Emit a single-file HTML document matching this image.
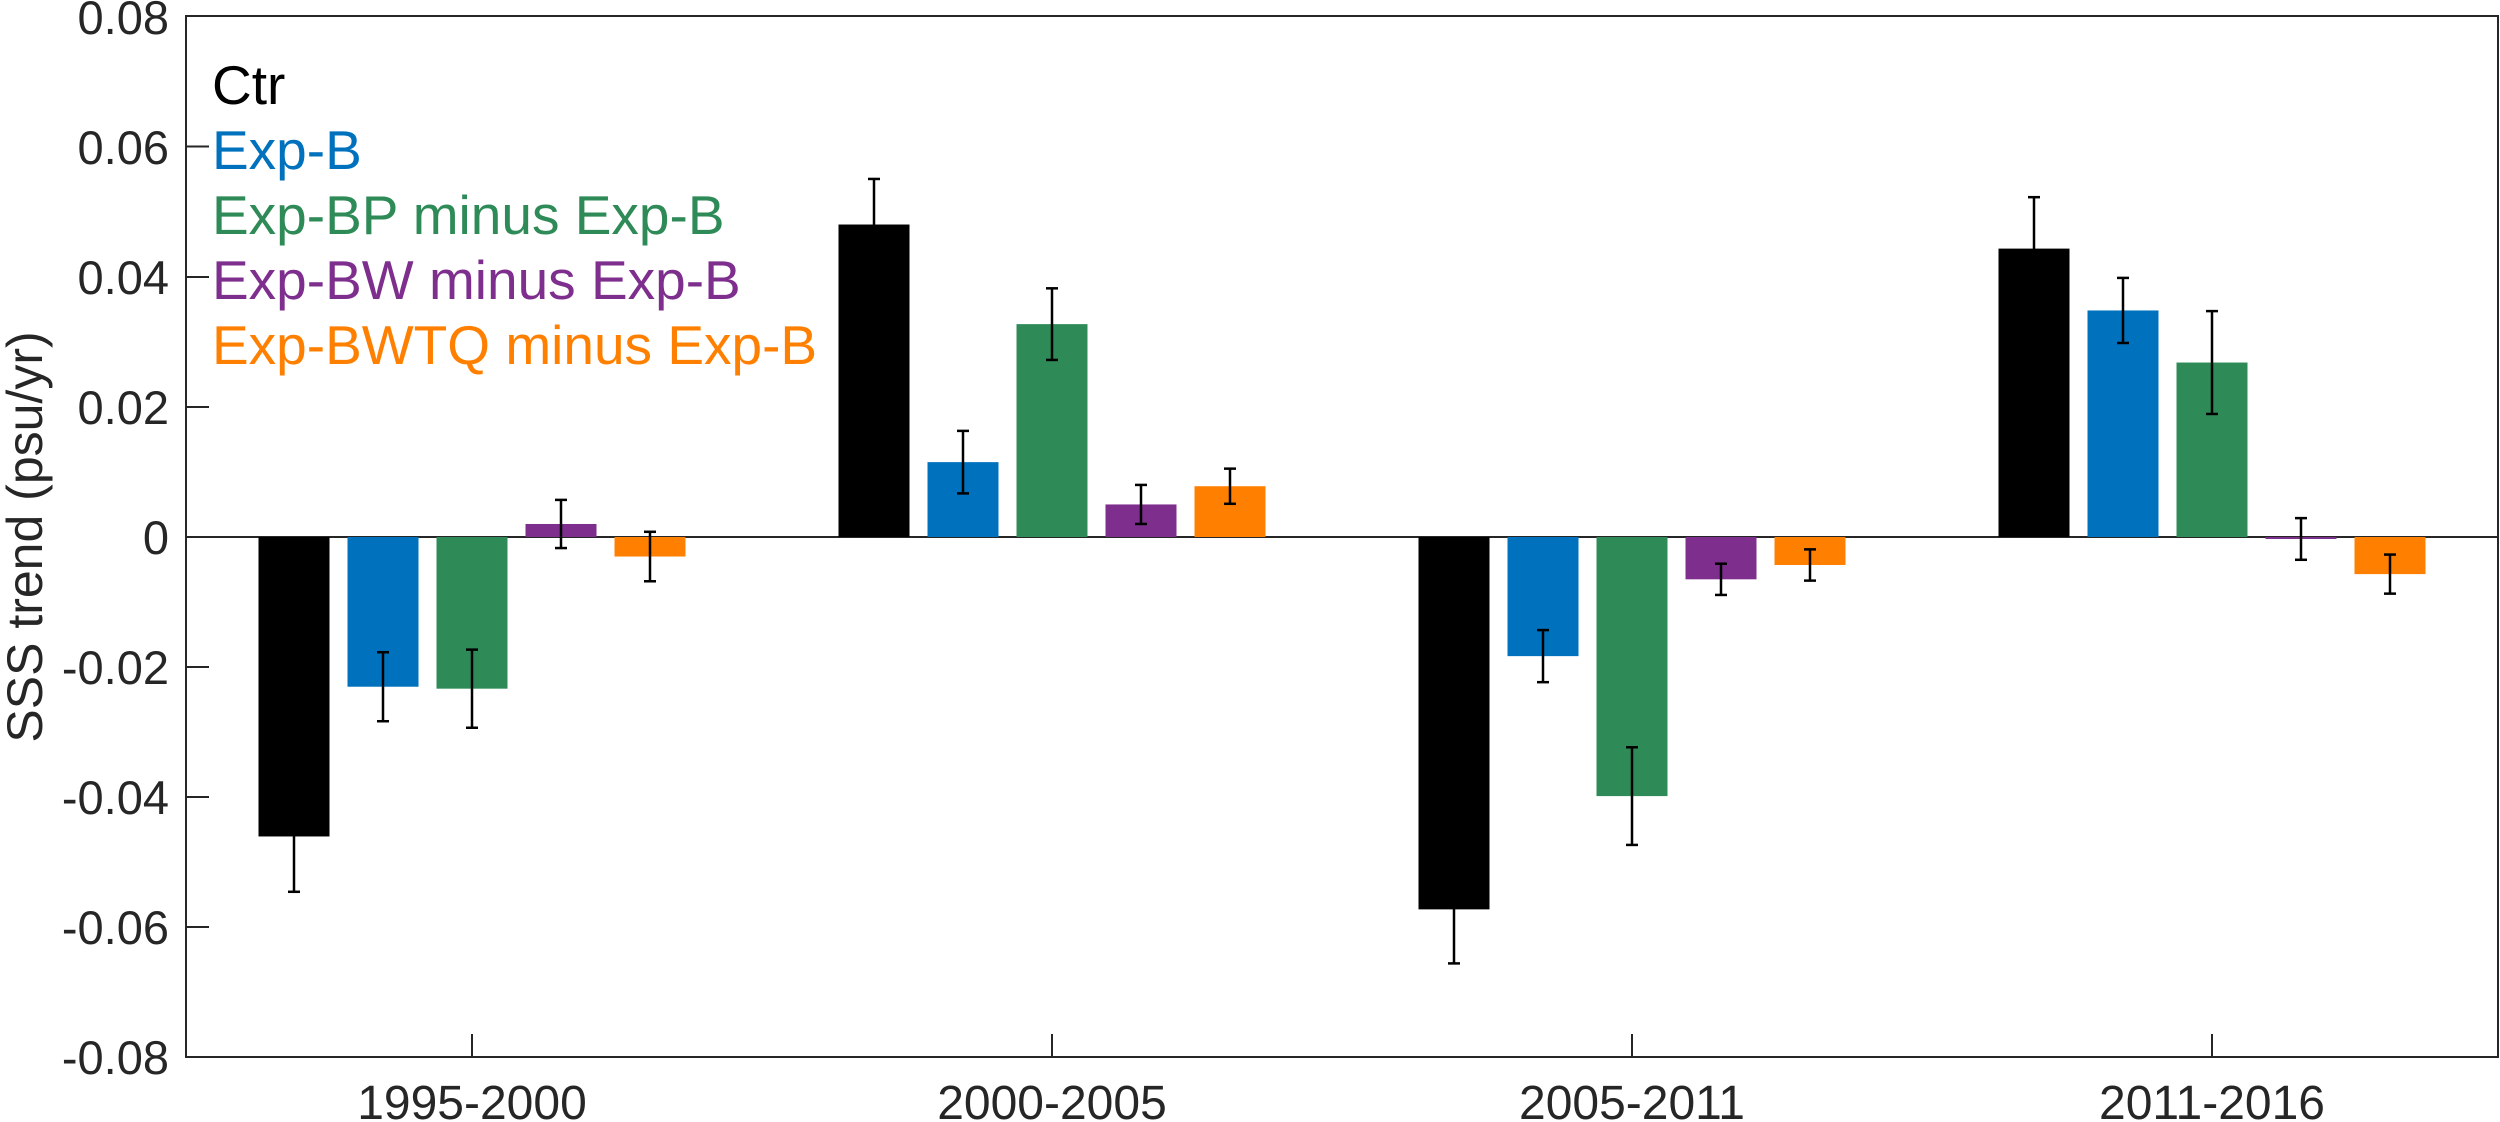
<!DOCTYPE html>
<html><head><meta charset="utf-8"><style>
html,body{margin:0;padding:0;background:#fff;}
svg{display:block;font-family:"Liberation Sans",Arial,sans-serif;}
</style></head><body>
<svg width="2500" height="1122" viewBox="0 0 2500 1122" xmlns="http://www.w3.org/2000/svg">
<rect x="186" y="16" width="2312" height="1041" fill="none" stroke="#262626" stroke-width="2"/>
<line x1="186" y1="537" x2="2498" y2="537" stroke="#262626" stroke-width="2"/>
<g stroke="#262626" stroke-width="2">
<line x1="186" y1="146.5" x2="209" y2="146.5"/><line x1="186" y1="277" x2="209" y2="277"/>
<line x1="186" y1="407" x2="209" y2="407"/><line x1="186" y1="667" x2="209" y2="667"/>
<line x1="186" y1="797" x2="209" y2="797"/><line x1="186" y1="927" x2="209" y2="927"/>
<line x1="472" y1="1057" x2="472" y2="1034"/><line x1="1052" y1="1057" x2="1052" y2="1034"/>
<line x1="1632" y1="1057" x2="1632" y2="1034"/><line x1="2212" y1="1057" x2="2212" y2="1034"/>
</g>
<g font-size="47" fill="#262626" text-anchor="end">
<text x="169" y="34">0.08</text><text x="169" y="164">0.06</text><text x="169" y="294">0.04</text>
<text x="169" y="424">0.02</text><text x="169" y="554">0</text><text x="169" y="684">-0.02</text>
<text x="169" y="814">-0.04</text><text x="169" y="944">-0.06</text><text x="169" y="1074">-0.08</text>
</g>
<g font-size="48" fill="#262626" text-anchor="middle">
<text x="472" y="1119">1995-2000</text><text x="1052" y="1119">2000-2005</text>
<text x="1632" y="1119">2005-2011</text><text x="2212" y="1119">2011-2016</text>
</g>
<text transform="translate(42,537) rotate(-90)" font-size="50" fill="#262626" text-anchor="middle">SSS trend (psu/yr)</text>
<g font-size="55">
<text x="212" y="104" fill="#000">Ctr</text>
<text x="212" y="169" fill="#0072BD">Exp-B</text>
<text x="212" y="234" fill="#2E8B57">Exp-BP minus Exp-B</text>
<text x="212" y="299" fill="#7E2F8E">Exp-BW minus Exp-B</text>
<text x="212" y="364" fill="#FF8000">Exp-BWTQ minus Exp-B</text>
</g>
<g id="g"></g>
<script><![CDATA[
(function(){
var cols=["#000000","#0072BD","#2E8B57","#7E2F8E","#FF8000"];
var data=[[[-0.046,0.0085],[-0.023,0.0053],[-0.0233,0.006],[0.002,0.0037],[-0.003,0.0038]],
[[0.048,0.007],[0.0115,0.0048],[0.0327,0.0055],[0.005,0.003],[0.0078,0.0027]],
[[-0.0572,0.0083],[-0.0183,0.004],[-0.0398,0.0075],[-0.0065,0.0024],[-0.0043,0.0024]],
[[0.0443,0.0079],[0.0348,0.005],[0.0268,0.0079],[-0.0003,0.0032],[-0.0057,0.003]]];
var ns="http://www.w3.org/2000/svg",g=document.getElementById("g");
function Y(v){return 537-v*6510;}
function el(n,a){var e=document.createElementNS(ns,n);for(var k in a)e.setAttribute(k,a[k]);g.appendChild(e);}
var centers=[472,1052,1632,2212];
for(var i=0;i<4;i++)for(var j=0;j<5;j++){
 var cx=centers[i]+(j-2)*89,v=data[i][j][0];
 var y0=Y(0),y1=Y(v);
 el("rect",{x:cx-35.5,y:Math.min(y0,y1),width:71,height:Math.max(Math.abs(y1-y0),2),fill:cols[j]});
}
for(var i=0;i<4;i++)for(var j=0;j<5;j++){
 var cx=centers[i]+(j-2)*89,v=data[i][j][0],e=data[i][j][1];
 var a=Y(v+e),b=Y(v-e);
 el("line",{x1:cx,y1:a,x2:cx,y2:b,stroke:"#000","stroke-width":2.5});
 el("line",{x1:cx-6,y1:a,x2:cx+6,y2:a,stroke:"#000","stroke-width":2.5});
 el("line",{x1:cx-6,y1:b,x2:cx+6,y2:b,stroke:"#000","stroke-width":2.5});
}
})();
]]></script>
</svg>
</body></html>
